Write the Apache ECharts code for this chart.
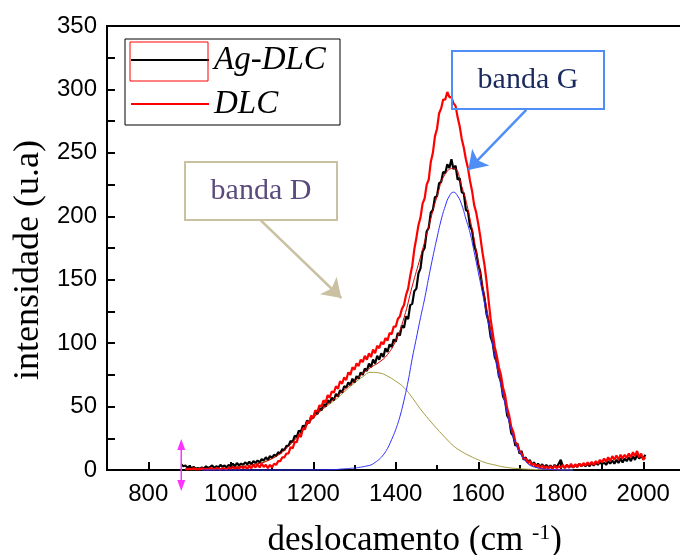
<!DOCTYPE html>
<html><head><meta charset="utf-8">
<script src="https://cdn.jsdelivr.net/npm/echarts@6/dist/echarts.min.js"></script>
<style>html,body{margin:0;padding:0;background:#fff}#c{width:680px;height:555px}</style>
</head><body><div id="c"></div><script>
// ---- data ----
const xTickLabels = [800, 1000, 1200, 1400, 1600, 1800, 2000];
const xMinorTicks = [900, 1100, 1300, 1500, 1700, 1900];
const seriesNames = ['Ag-DLC', 'DLC'];

// Ag-DLC spectrum, sampled every 5 cm-1 starting at 880
const agStart = 880, agStep = 5;
const agDLC = [4.5,3,3.5,2,3,1.5,2.5,1,1.5,1,
2,1,3,1.5,2.5,3.5,1.5,3,2,4,
2.5,3.5,2,4,3,5,3,5.5,3.5,5,
4,6,4.5,6.5,4.5,7,5.5,7.5,6,8.5,
7.5,10,8,11,9.5,12,11,14,13,16.5,
15.5,19,19,23,22,27,26,31,30,35,
34,39,37,42,41,46,44,49,47,52,
50,55,53,57,55,60,58,63,61,66,
65,69,67,72,69,74,72,77,75,80,
78,84,81,87,84,90,87,92,89,96,
93,99,97,103,101,108,106,114,112,121,
119,130,131,141,143,155,159,172,175,188,
191,203,205,215,216,226,227,235,234,241,
238,245,237,240,229,230,219,218,205,204,
192,189,177,172,162,156,144,136,123,117,
105,100,89,85,74,70,58,55,43,40,
29,27,19,21,13,15,8,10,6,8,
4,6,3,5,2.5,4.5,2,4,2,3.5,
1.5,4,2,5,8,3,2,4,2,3.5,
2,4,2.5,5,3,4.5,3,5,3,5.5,
3.5,6,4,6.5,4.5,6,4,7,5,7.5,
5,8,5.5,9,6,9,7,10,7,11,
8,12,9,11,9,12];

// DLC spectrum, sampled every 5 cm-1 starting at 890
const dlcStart = 890, dlcStep = 5;
const dlc = [1,0.5,1,0.5,1.5,0.5,1,0.5,1.5,0.5,
1,0.5,1.5,1,0.5,1.5,1,0.5,1.5,1,
0.5,2,1,2.5,1,2,1,3,1.5,2.5,
1,3,1.5,4,2,4.5,2,5,2.5,4,
1.5,4,2,5,4,7,7,10,10,13,
13,18,17,22,22,28,26,33,32,38,
37,43,41,47,46,51,50,55,53,59,
57,62,61,66,64,70,68,73,71,77,
75,81,79,84,82,87,85,90,87,92,
89,95,92,98,96,101,99,104,102,108,
107,113,113,119,121,127,130,138,143,153,
161,174,183,193,199,210,214,225,229,243,
250,263,269,281,285,292,292,298,294,294,
289,287,278,271,261,254,245,238,228,220,
209,203,194,184,172,162,149,134,119,108,
97,90,81,75,65,59,49,43,34,30,
22,20,15,13,9,9,6,7,4,5,
3,4,2,3.5,1.5,3,1.5,3,1,3.5,
1.5,3,2,4,1.5,4,2,5,2,4.5,
2.5,5,3,5.5,3.5,6,4,6.5,4,7,
5,8,6,9,6.5,10,7,11,8,11.5,
8,12,9,12,9.5,13,10,14,11,15,
10,13,8,10];

// fitted envelope (thin red line over Ag-DLC)
const fitX = [1000,1050,1100,1150,1200,1250,1300,1320,1340,1360,1380,1400,1420,1440,1460,1480,1500,1520,1540,1560,1580,1600,1620,1640,1660,1680,1700,1720,1740,1760,1800];
const fitY = [2,4,9,22,41,56,70,76,81,85,91,102,120,145,168,192,215.5,233.5,238,223.5,198,164,128.5,94,61.5,32.6,15,5.7,2.4,1,0.3];

// G band (blue)
const gX = [930,1000,1100,1200,1250,1260,1270,1280,1290,1300,1310,1320,1330,1340,1350,1360,1370,1380,1390,1400,1410,1420,1430,1440,1450,1460,1470,1480,1490,1500,1510,1520,1530,1540,1550,1560,1570,1580,1590,1600,1610,1620,1630,1640,1650,1660,1670,1680,1690,1700,1710,1720,1730,1740,1750,1760,1780,1800,1830];
const gY = [0,0,0,0.1,0.3,0.5,0.8,1,1.3,1.5,2,2.5,3.2,4,6,8.5,12,17,24,32,42,55,70,88,104,120,135,152,168,183,197,208,216,219,216,209,198,187,172,156,140,123,107,90,74,59,45,31,21,14,9,5,3,2,1.2,0.7,0.3,0.1,0];

// D band (olive)
const dX = [900,950,1000,1050,1100,1120,1140,1160,1180,1200,1220,1240,1260,1280,1300,1320,1340,1360,1380,1400,1420,1440,1460,1480,1500,1520,1540,1560,1580,1600,1620,1640,1660,1680,1700,1740,1780,1830];
const dY = [0.2,0.6,2,4,9,13,19,26,34,41,47,52,57,63,68.5,73.5,77,76.5,74,70,65,57,48,40,32.5,25.5,19,14.5,11,8,5.5,4,2.5,1.6,1,0.4,0.2,0];

// ---- build ----
const agPairs = agDLC.map((v, i) => [agStart + i * agStep, v]);
const dlcPairs = dlc.map((v, i) => [dlcStart + i * dlcStep, v]);
const fitPairs = fitX.map((x, i) => [x, fitY[i]]);
const gPairs = gX.map((x, i) => [x, gY[i]]);
const dPairs = dX.map((x, i) => [x, dY[i]]);

const serif = 'Liberation Serif';
const sans = 'Liberation Sans';

const chart = echarts.init(document.getElementById('c'), null, {renderer: 'canvas'});
chart.setOption({
  animation: false,
  backgroundColor: '#fff',
  grid: {left: 107, top: 26, width: 577.5, height: 444, outerBoundsMode: 'none', containLabel: false,
    show: true, borderColor: '#000', borderWidth: 2, backgroundColor: 'transparent'},
  xAxis: [{
    type: 'value', min: 700, max: 2100,
    name: '{a|deslocamento (cm }{s|-1}{a|)}',
    nameLocation: 'middle', nameGap: 52,
    nameTextStyle: {padding: [0, 0, 0, 38], rich: {
      a: {fontFamily: serif, fontSize: 35, color: '#000'},
      s: {fontFamily: serif, fontSize: 22, color: '#000', verticalAlign: 'top', padding: [0, 0, 16, 0]}
    }},
    axisLine: {onZero: false, lineStyle: {color: '#000', width: 2}},
    axisTick: {inside: true, length: 8, customValues: xTickLabels, lineStyle: {color: '#000', width: 2}},
    axisLabel: {customValues: xTickLabels, margin: 12, fontFamily: sans, fontSize: 24, color: '#000', formatter: v => String(v)},
    splitLine: {show: false}
  }, {
    type: 'value', min: 700, max: 2100, position: 'bottom',
    axisLine: {show: false},
    axisTick: {inside: true, length: 5, customValues: xMinorTicks, lineStyle: {color: '#000', width: 2}},
    axisLabel: {show: false},
    splitLine: {show: false}
  }],
  yAxis: {
    type: 'value', min: 0, max: 350, interval: 50,
    name: 'intensidade (u.a)', nameLocation: 'middle', nameGap: 60,
    nameTextStyle: {fontFamily: serif, fontSize: 36, color: '#000', padding: [0, 24, 0, 0]},
    axisLine: {lineStyle: {color: '#000', width: 2}},
    axisTick: {inside: true, length: 8, lineStyle: {color: '#000', width: 2}},
    minorTick: {show: true, splitNumber: 2, length: 8, lineStyle: {color: '#000', width: 2}},
    axisLabel: {margin: 10, fontFamily: sans, fontSize: 24, color: '#000'},
    splitLine: {show: false}
  },
  legend: {
    data: seriesNames, orient: 'vertical', left: 131, top: 41, padding: 0,
    icon: 'rect', itemWidth: 78, itemHeight: 2, itemGap: 6, selectedMode: false,
    textStyle: {fontFamily: serif, fontStyle: 'italic', fontSize: 33, lineHeight: 38, color: '#000'}
  },
  series: [
    {name: 'D', type: 'line', data: dPairs, symbol: 'none', smooth: true, lineStyle: {color: '#a29c40', width: 1}, itemStyle: {color: '#a29c40'}, z: 1},
    {name: 'Ag-DLC', type: 'line', data: agPairs, symbol: 'none', lineStyle: {color: '#000', width: 2.2}, itemStyle: {color: '#000'}, z: 2},
    {name: 'DLC', type: 'line', data: dlcPairs, symbol: 'none', lineStyle: {color: '#ff0000', width: 2.2}, itemStyle: {color: '#ff0000'}, z: 3},
    {name: 'fit', type: 'line', data: fitPairs, symbol: 'none', smooth: true, lineStyle: {color: '#d40000', width: 1}, itemStyle: {color: '#d40000'}, z: 4},
    {name: 'G', type: 'line', data: gPairs, symbol: 'none', smooth: true, clip: false, lineStyle: {color: '#2f2fff', width: 1}, itemStyle: {color: '#2f2fff'}, z: 5,
      markLine: {silent: true, animation: false, label: {show: false}, emphasis: {disabled: true},
        data: [
          [{coord: [1071.5, 197.1], symbol: 'none', lineStyle: {color: '#c9c1a1', width: 2.5, type: 'solid'}}, {coord: [1268, 135.6], symbol: 'arrow', symbolSize: 18}],
          [{coord: [1716.4, 283.8], symbol: 'none', lineStyle: {color: '#4f8ef7', width: 2.5, type: 'solid'}}, {coord: [1575.8, 236.5], symbol: 'arrow', symbolSize: 18}]
        ]}}
  ]
});

// annotations: legend frame, text boxes, magenta double-headed marker
const pTop = chart.convertToPixel({xAxisIndex: 0, yAxisIndex: 0}, [880, 24.4]);
const pBot = chart.convertToPixel({xAxisIndex: 0, yAxisIndex: 0}, [880, -16.6]);
const mag = '#ff33ff';
chart.setOption({graphic: [
  {type: 'rect', z: 3, shape: {x: 125, y: 39, width: 215, height: 86}, style: {fill: '#fff', stroke: '#000', lineWidth: 1}},
  {type: 'rect', z: 10, shape: {x: 130, y: 42, width: 78, height: 39}, style: {fill: 'none', stroke: '#ff0000', lineWidth: 1}},
  {type: 'rect', z: 10, shape: {x: 185, y: 162, width: 152, height: 58}, style: {fill: '#fff', stroke: '#c9c1a1', lineWidth: 2}},
  {type: 'text', z: 11, x: 261, y: 191, style: {text: 'banda D', font: '30px "Liberation Serif"', fill: '#5b4b7d', textAlign: 'center', textVerticalAlign: 'middle'}},
  {type: 'rect', z: 10, shape: {x: 452, y: 51, width: 152, height: 58}, style: {fill: 'none', stroke: '#4f8ef7', lineWidth: 2}},
  {type: 'text', z: 11, x: 528, y: 80, style: {text: 'banda G', font: '30px "Liberation Serif"', fill: '#1b2a5e', textAlign: 'center', textVerticalAlign: 'middle'}},
  {type: 'line', z: 20, shape: {x1: pTop[0], y1: pTop[1] + 4, x2: pBot[0], y2: pBot[1] - 4}, style: {stroke: mag, lineWidth: 1.5}},
  {type: 'polygon', z: 20, shape: {points: [[pTop[0], pTop[1]], [pTop[0] - 4, pTop[1] + 11], [pTop[0] + 4, pTop[1] + 11]]}, style: {fill: mag}},
  {type: 'polygon', z: 20, shape: {points: [[pBot[0], pBot[1]], [pBot[0] - 4, pBot[1] - 11], [pBot[0] + 4, pBot[1] - 11]]}, style: {fill: mag}}
]});
</script></body></html>
